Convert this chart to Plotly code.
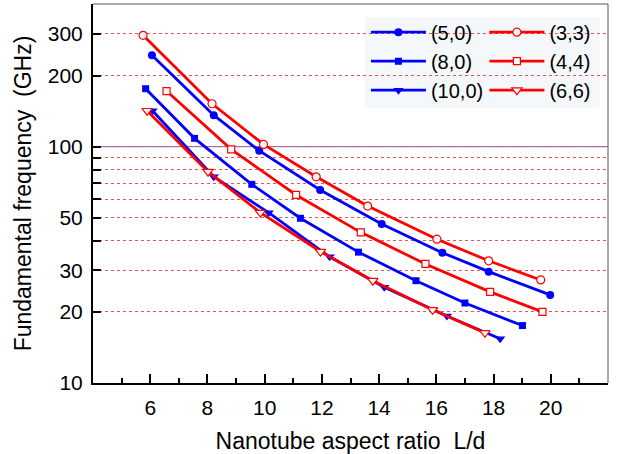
import plotly.graph_objects as go

# ---- data ----
x_5_0 = [6.06, 8.22, 9.81, 11.94, 14.09, 16.21, 17.83, 19.98]
y_5_0 = [244, 136, 96.2, 65.6, 47.1, 35.6, 29.6, 23.6]

x_8_0 = [5.84, 7.55, 9.55, 11.25, 13.28, 15.29, 17.00, 19.01]
y_8_0 = [176, 108.5, 69.3, 49.8, 35.8, 27.1, 21.8, 17.5]

x_10_0 = [6.08, 8.22, 10.14, 12.27, 14.18, 16.37, 18.23]
y_10_0 = [142, 74.6, 52.6, 34.2, 25.4, 19.2, 15.4]

x_3_3 = [5.75, 8.16, 9.96, 11.80, 13.60, 16.02, 17.83, 19.65]
y_3_3 = [296, 152, 102.3, 74.6, 56.1, 40.6, 32.9, 27.3]

x_4_4 = [6.57, 8.83, 11.10, 13.36, 15.62, 17.88, 19.71]
y_4_4 = [172, 97.5, 62.5, 43.4, 31.9, 24.3, 20.0]

x_6_6 = [5.89, 8.02, 9.85, 11.95, 13.78, 15.87, 17.70]
y_6_6 = [142, 78.4, 52.6, 36.0, 27.1, 20.4, 16.3]

x_tick_vals = [6, 8, 10, 12, 14, 16, 18, 20]
x_minor_vals = [5, 7, 9, 11, 13, 15, 17, 19, 21]
y_tick_vals = [10, 20, 30, 40, 50, 60, 70, 80, 90, 100, 200, 300]
y_tick_text = ["10", "20", "30", "", "50", "", "", "", "", "100", "200", "300"]

BLUE = "#0000ff"
RED = "#ff0000"
FONT = "Liberation Sans, Arial, sans-serif"

series = [
    ("(5,0)", x_5_0, y_5_0, BLUE, "circle", True, "legend"),
    ("(8,0)", x_8_0, y_8_0, BLUE, "square", True, "legend"),
    ("(10,0)", x_10_0, y_10_0, BLUE, "triangle-down", True, "legend"),
    ("(3,3)", x_3_3, y_3_3, RED, "circle", False, "legend2"),
    ("(4,4)", x_4_4, y_4_4, RED, "square", False, "legend2"),
    ("(6,6)", x_6_6, y_6_6, RED, "triangle-down", False, "legend2"),
]

fig = go.Figure()
for name, xs, ys, col, sym, filled, leg in series:
    size = 9 if sym == "triangle-down" else (8 if sym == "circle" else 7)
    fig.add_trace(go.Scatter(
        x=xs, y=ys, name=name, mode="lines+markers",
        line=dict(color=col, width=2.8),
        marker=dict(symbol=sym, size=size,
                    color=col if filled else "white",
                    line=dict(color=col, width=0 if filled else 1.2)),
        legend=leg, legendgroup=name,
    ))

fig.update_layout(
    width=618, height=454,
    margin=dict(l=93, r=10, t=4, b=71, autoexpand=False),
    paper_bgcolor="white", plot_bgcolor="white",
    font=dict(family=FONT, size=21, color="black"),
    showlegend=True,
    legend=dict(x=0.53, y=0.977, xanchor="left", yanchor="top",
                bgcolor="rgba(0,0,0,0)", font=dict(size=20),
                tracegroupgap=0, itemwidth=55),
    legend2=dict(x=0.76, y=0.977, xanchor="left", yanchor="top",
                 bgcolor="rgba(0,0,0,0)", font=dict(size=20),
                 tracegroupgap=0, itemwidth=55),
    xaxis=dict(
        range=[4, 22], tickmode="array", tickvals=x_tick_vals,
        ticks="inside", ticklen=9, tickwidth=1.5, tickcolor="black",
        minor=dict(tickmode="array", tickvals=x_minor_vals, ticks="inside",
                   ticklen=5, tickwidth=1.5, tickcolor="black"),
        showline=True, linecolor="black", linewidth=2, mirror=False,
        showgrid=False, zeroline=False, automargin=False,
        tickfont=dict(size=21), ticklabelstandoff=5,
        title=dict(text="Nanotube aspect ratio\u00a0\u00a0L/d", font=dict(size=23), standoff=16),
    ),
    yaxis=dict(
        type="log", range=[1, 2.604], tickmode="array",
        tickvals=y_tick_vals, ticktext=y_tick_text,
        ticks="inside", ticklen=8, tickwidth=1.5, tickcolor="black",
        showline=True, linecolor="black", linewidth=2, mirror=False,
        showgrid=True, gridcolor="#e85454", gridwidth=1, griddash="dot",
        zeroline=False, automargin=False,
        tickfont=dict(size=21), ticklabelstandoff=4,
        title=dict(text="Fundamental frequency\u00a0\u00a0(GHz)", font=dict(size=23), standoff=10),
    ),
    shapes=[
        dict(type="rect", xref="paper", yref="paper", x0=0.528, x1=0.984, y0=0.726, y1=0.966,
             fillcolor="#f5f8fb", line=dict(width=0), layer="between"),
        dict(type="line", xref="paper", yref="y", x0=0, x1=1, y0=100, y1=100,
             line=dict(color="#7f7fe6", width=1.3), layer="between"),
        dict(type="line", xref="paper", yref="paper", x0=0, x1=1, y0=1, y1=1,
             line=dict(color="#555555", width=1), layer="above"),
        dict(type="line", xref="paper", yref="paper", x0=1, x1=1, y0=0, y1=1,
             line=dict(color="#555555", width=1), layer="above"),
    ],
)

fig.write_html("out.html", config={"displayModeBar": False},
               post_script="document.body.style.margin='0px';")
